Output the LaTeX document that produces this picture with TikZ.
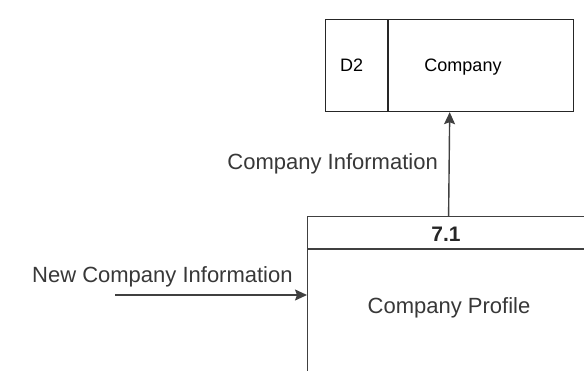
\documentclass[tikz,border=0pt]{standalone}
\usepackage{fontspec}
\setmainfont{Liberation Sans}
\usetikzlibrary{positioning, arrows.meta, calc}

\begin{document}
\begin{tikzpicture}[
    x=1pt,y=-1pt,
    storebox/.style={draw=black!85, line width=1.2pt, rectangle, minimum height=92pt, inner sep=0pt},
    procbox/.style={draw=black!75, line width=1.2pt, rectangle, minimum width=282pt, inner sep=0pt},
    flowlabel/.style={text=black!78, font=\fontsize{22}{26}\selectfont, inner sep=0pt},
    storelabel/.style={text=black, font=\fontsize{18}{22}\selectfont, inner sep=0pt},
    arrow/.style={-{Stealth[length=12pt,width=11pt,inset=2pt]}, draw=black!75, line width=1.4pt}
]
    \useasboundingbox (0,0) rectangle (584,370);
    \clip (0,0) rectangle (584,370);
    \fill[white] (0,0) rectangle (584,370);

    % --- Data store D2 ---
    \node[storebox, minimum width=62pt, anchor=north west] (storeid) at (325,19) {};
    \node[storebox, minimum width=185pt, anchor=west] (storename) at (storeid.east) {};
    \node[storelabel, anchor=base west] (d2) at (340,71) {D2};
    \node[storelabel, anchor=base] (company) at (463,71) {Company};
    \coordinate (store) at ($(storeid.south west)!0.5!(storename.south east)$);

    % --- Process 7.1 ---
    \node[procbox, minimum height=32pt, anchor=north west] (prochead) at (307,216) {};
    \node[procbox, minimum height=200pt, anchor=north] (procbody) at (prochead.south) {};
    \node[font=\bfseries\fontsize{21}{25}\selectfont, text=black!85, anchor=base, inner sep=0pt] (procid) at (446,241) {7.1};
    \node[flowlabel, anchor=base] (procname) at (449,313) {Company Profile};

    % Data flows
    \coordinate (source) at (115,295);
    \draw[arrow] (prochead.north) -- (store);
    \draw[arrow] (source) -- (source -| procbody.west);
    \node[flowlabel, anchor=base east] (outlabel) at (438,169) {Company Information};
    \node[flowlabel, anchor=base west] (inlabel) at (32,282) {New Company Information};

\end{tikzpicture}
\end{document}
